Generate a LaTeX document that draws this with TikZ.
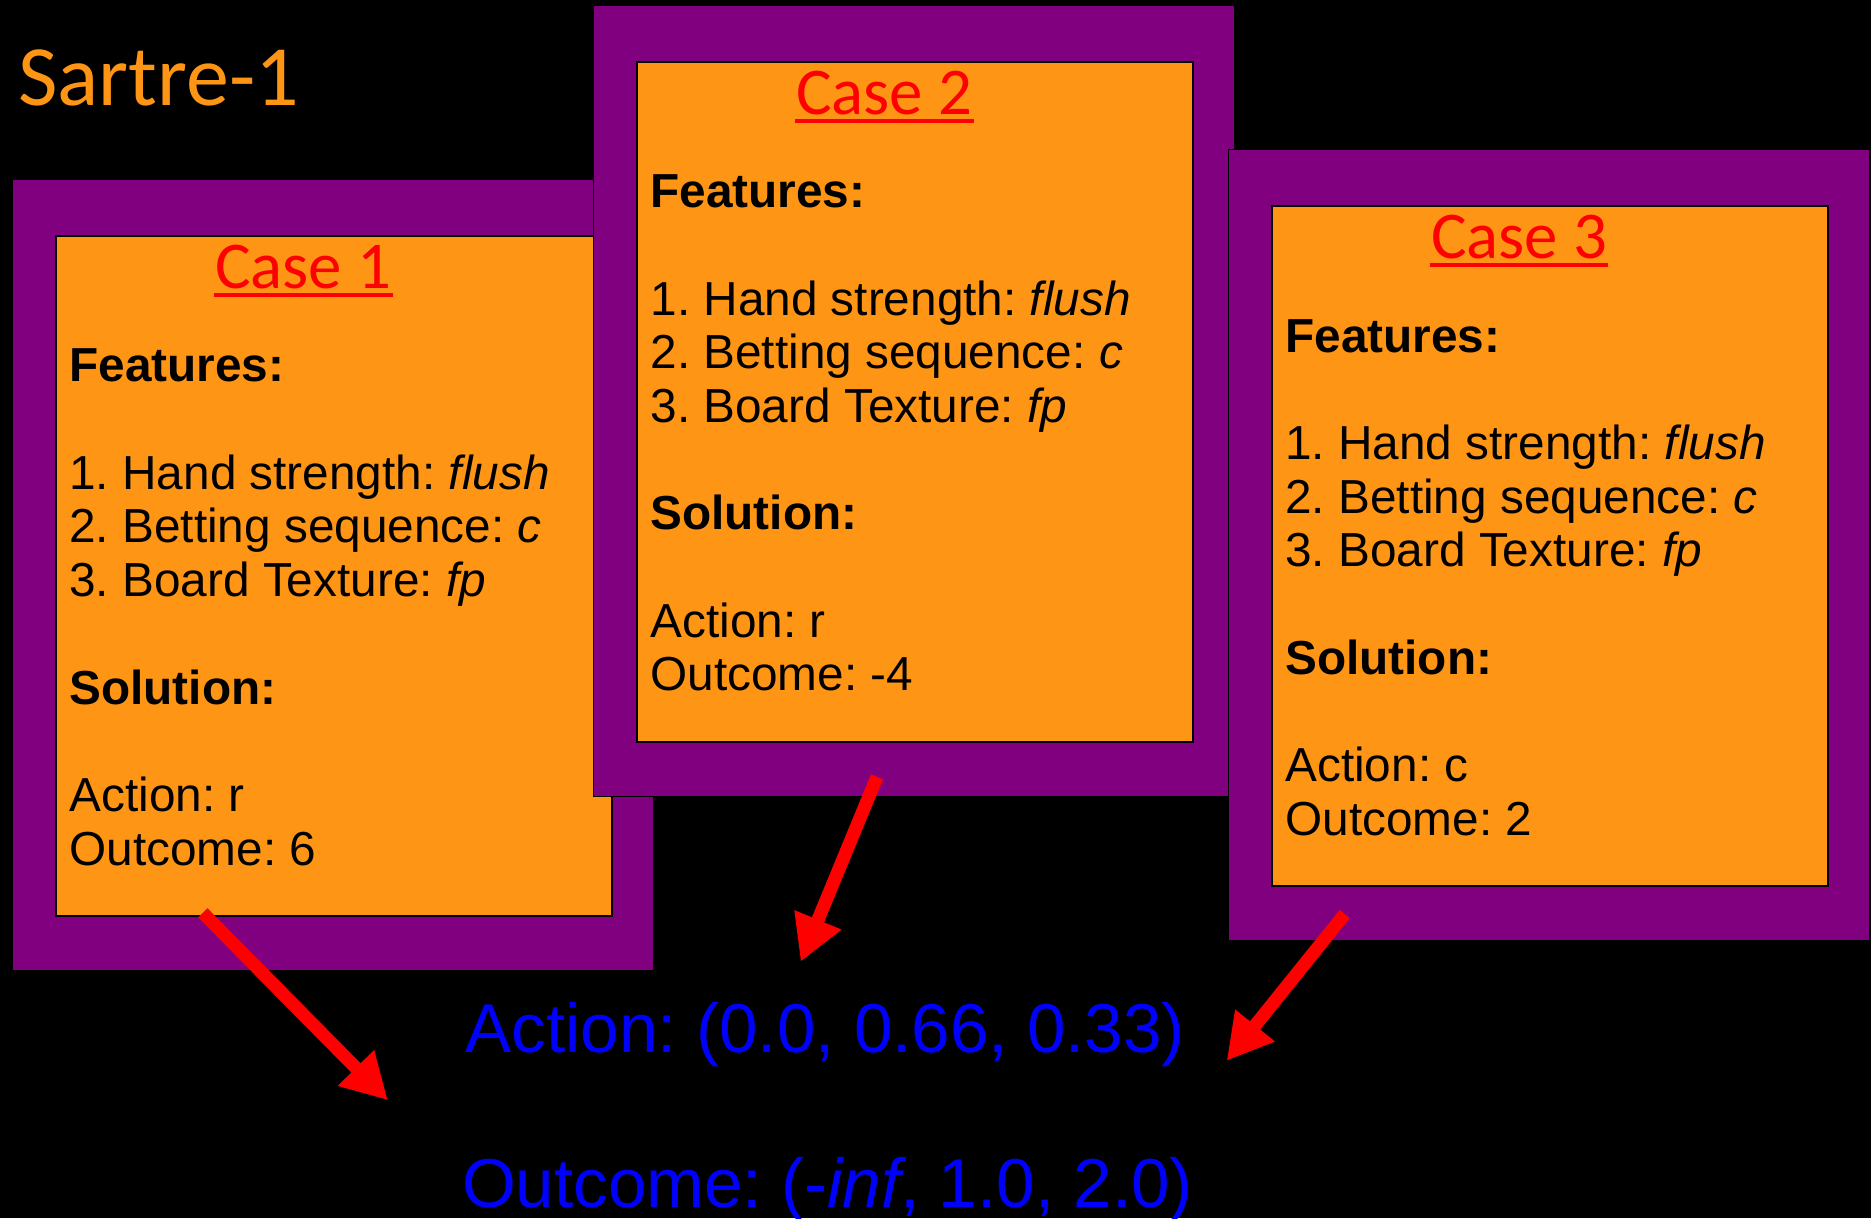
\documentclass[tikz,border=0pt]{standalone}
\usepackage{fontspec}
\setmainfont{Liberation Sans}
\newfontfamily\calibrifont{Carlito}
\usetikzlibrary{arrows.meta,calc}
\definecolor{cardpurple}{RGB}{128,0,128}
\definecolor{cardorange}{RGB}{255,149,21}
\definecolor{resblue}{RGB}{0,0,255}
\definecolor{arrred}{RGB}{255,0,0}
\frenchspacing

\newcommand\casecard[6]{%
  \node[purpbox, minimum width=537pt, minimum height=663pt] (#1frame) at (#2,#3) {};
  \node[orbox, minimum width=466pt, minimum height=570pt] (#1box) at ($(#1frame.north west)+(36,47)$) {};
  \node[casetitle] (#1title) at ($(#1box.north west)+(208,45)$) {Case #4};
  \draw[arrred, line width=3.6pt] ($(#1title.south west)+(-1,5)$) -- ($(#1title.south east)+(1,5)$);
  \node[cardline] (#1feat) at ($(#1box.north west)+(12,123)$) {\bfseries Features:};
  \node[cardline] (#1fa) at ($(#1box.north west)+(12,213)$) {1. Hand strength: \textit{flush}};
  \node[cardline] (#1fb) at ($(#1box.north west)+(12,258)$) {2. Betting sequence: \textit{c}};
  \node[cardline] (#1fc) at ($(#1box.north west)+(12,303)$) {3. Board Texture: \textit{fp}};
  \node[cardline] (#1sol) at ($(#1box.north west)+(12,393)$) {\bfseries Solution:};
  \node[cardline] (#1act) at ($(#1box.north west)+(12,483)$) {Action: #5};
  \node[cardline] (#1out) at ($(#1box.north west)+(12,528)$) {Outcome: #6};
}

\begin{document}
\begin{tikzpicture}[x=1pt,y=-1pt,
  purpbox/.style={draw=black, line width=1pt, fill=cardpurple, anchor=north west, inner sep=0pt},
  orbox/.style={draw=black, line width=1.5pt, fill=cardorange, anchor=north west, inner sep=0pt},
  casetitle/.style={font=\calibrifont\fontsize{56}{60}\selectfont, text=arrred, inner sep=0pt, anchor=base, text depth=0pt},
  cardline/.style={font=\fontsize{40}{45}\selectfont, text=black, inner sep=0pt, anchor=base west},
  result/.style={font=\fontsize{58}{64}\selectfont, text=resblue, inner sep=0pt, anchor=base west},
  bigarrow/.style={draw=arrred, line width=11pt, -{Triangle[width=40pt,length=38pt]}},
  titlestyle/.style={font=\calibrifont\fontsize{72}{80}\selectfont, text=cardorange, inner sep=0pt, anchor=base west}
]
\fill[black] (0,0) rectangle (1568,1021);
\useasboundingbox (0,0) rectangle (1568,1021);

\node[titlestyle] (title) at (15,88) {Sartre-1};

\casecard{c1}{10}{150}{1}{r}{6}
\casecard{c2}{497}{4}{2}{r}{-4}
\casecard{c3}{1029}{125}{3}{c}{2}

\node[result] (resact) at (390,882) {Action: (0.0, 0.66, 0.33)};
\node[result] (resout) at (387,1012) {Outcome: (-\textit{inf}, 1.0, 2.0)};

\coordinate (a1s) at (170,765);
\coordinate (a1e) at (325,922);
\coordinate (a2s) at (735,651);
\coordinate (a2e) at (671,806);
\coordinate (a3s) at (1127,766);
\coordinate (a3e) at (1028,889);
\draw[bigarrow] (a1s) -- (a1e);
\draw[bigarrow] (a2s) -- (a2e);
\draw[bigarrow] (a3s) -- (a3e);
\end{tikzpicture}
\end{document}
